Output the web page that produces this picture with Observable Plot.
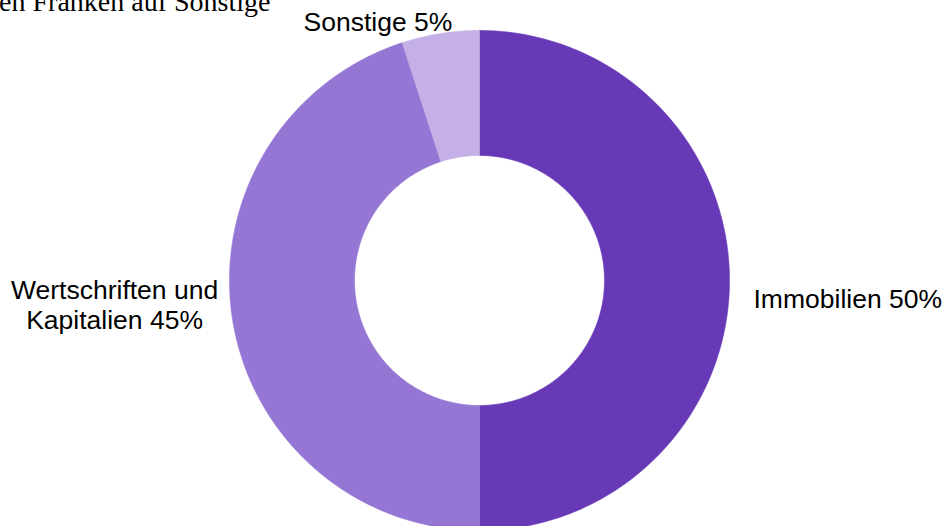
<!DOCTYPE html>
<html>
<head>
<meta charset="utf-8">
<script src="https://cdn.jsdelivr.net/npm/d3@7"></script>
<script src="https://cdn.jsdelivr.net/npm/@observablehq/plot@0.6"></script>
<style>
  html, body { margin: 0; padding: 0; background: #fff; }
  #chart { width: 944px; height: 526px; overflow: hidden; }
</style>
</head>
<body>
<div id="chart"></div>
<script>
// Data
const categories = ["Immobilien", "Wertschriften und Kapitalien", "Sonstige"];
const shares = [50, 45, 5];
const labels = ["Immobilien 50%", "Wertschriften und\nKapitalien 45%", "Sonstige 5%"];
const titleText = "Millionen Franken auf Sonstige";

// Layout / style
const W = 944, H = 526, cx = 479, cy = 280, R = 250, innerFrac = 0.5;
const colors = ["#6739b6", "#9576d4", "#c4b0e6"];
const labelStyle = [
  {textAnchor: "start", dx: 24, dy: 17.5},
  {textAnchor: "middle", dx: -118, dy: -15.5},
  {textAnchor: "middle", dx: -62.5, dy: -12.5}
];

const total = d3.sum(shares);
let acc = 0;
const slices = shares.map((v, i) => {
  const a0 = acc / total * 2 * Math.PI;
  acc += v;
  const a1 = acc / total * 2 * Math.PI;
  return {cat: categories[i], label: labels[i], a0, a1, mid: (a0 + a1) / 2, i};
});

function polygon(s) {
  const n = Math.max(8, Math.ceil((s.a1 - s.a0) / (Math.PI / 180)));
  const pts = [];
  for (let k = 0; k <= n; k++) {
    const a = s.a0 + (s.a1 - s.a0) * k / n;
    pts.push({x: Math.sin(a), y: Math.cos(a)});
  }
  for (let k = n; k >= 0; k--) {
    const a = s.a0 + (s.a1 - s.a0) * k / n;
    pts.push({x: innerFrac * Math.sin(a), y: innerFrac * Math.cos(a)});
  }
  pts.push(pts[0]);
  return pts;
}

const sliceMarks = slices.map(s =>
  Plot.line(polygon(s), {x: "x", y: "y", fill: colors[s.i], stroke: colors[s.i], strokeWidth: 0.6, curve: "linear-closed"})
);

const labelMarks = slices.map(s =>
  Plot.text([s], {
    x: d => Math.sin(d.mid),
    y: d => Math.cos(d.mid),
    text: "label",
    textAnchor: labelStyle[s.i].textAnchor,
    dx: labelStyle[s.i].dx,
    dy: labelStyle[s.i].dy,
    lineAnchor: "middle",
    lineHeight: 1.13,
    fontSize: 26.5,
    fontFamily: "Liberation Sans, Arial, sans-serif",
    fill: "#000"
  })
);

const chart = Plot.plot({
  width: W,
  height: H,
  margin: 0,
  x: {type: "linear", domain: [-cx / R, (W - cx) / R], range: [0, W], axis: null},
  y: {type: "linear", domain: [-(H - cy) / R, cy / R], range: [H, 0], axis: null},
  style: {background: "#fff", overflow: "hidden"},
  marks: [
    ...sliceMarks,
    ...labelMarks,
    Plot.text([titleText], {
      frameAnchor: "top-left",
      text: d => d,
      textAnchor: "end",
      lineAnchor: "bottom",
      dx: 270,
      dy: 10,
      fontSize: 28,
      fontFamily: "Liberation Serif, Times New Roman, serif",
      fill: "#000"
    })
  ]
});
document.getElementById("chart").appendChild(chart);
</script>
</body>
</html>
